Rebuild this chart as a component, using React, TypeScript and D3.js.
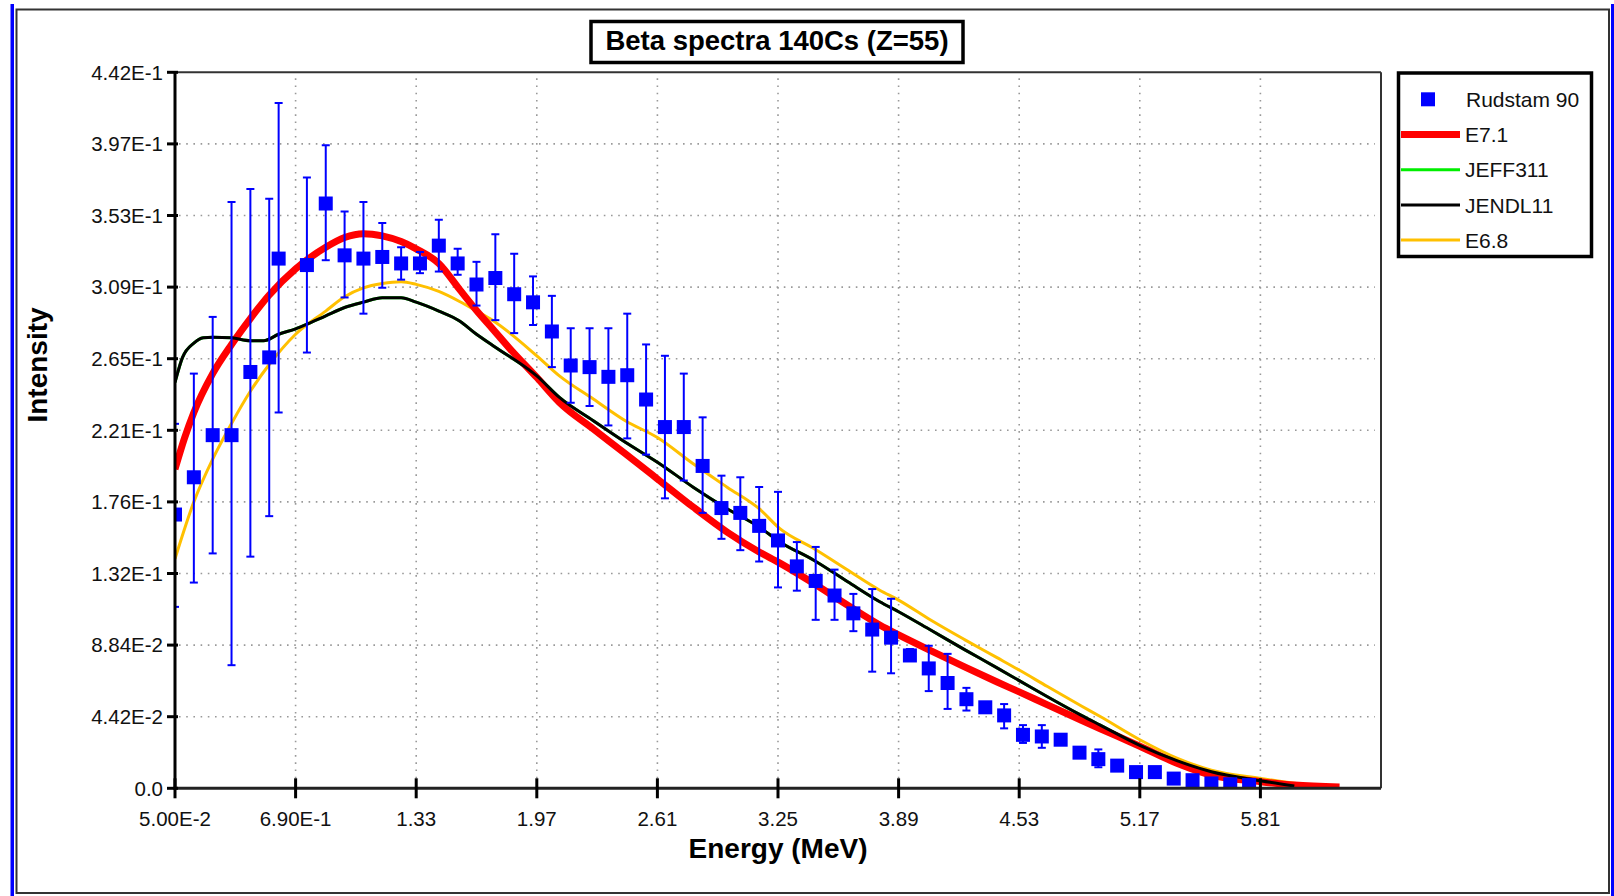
import React from 'react';
import * as d3 from 'd3';

// ---------- data ----------
const xTickValues = [0.05, 0.69, 1.33, 1.97, 2.61, 3.25, 3.89, 4.53, 5.17, 5.81];
const xTickLabels = ['5.00E-2', '6.90E-1', '1.33', '1.97', '2.61', '3.25', '3.89', '4.53', '5.17', '5.81'];
const yTickValues = [0, 0.0442, 0.0884, 0.1326, 0.1768, 0.221, 0.2652, 0.3094, 0.3536, 0.3978, 0.442];
const yTickLabels = ['0.0', '4.42E-2', '8.84E-2', '1.32E-1', '1.76E-1', '2.21E-1', '2.65E-1', '3.09E-1', '3.53E-1', '3.97E-1', '4.42E-1'];

// Rudstam 90 measured points
const rudE = [0.05, 0.15, 0.25, 0.35, 0.45, 0.55, 0.60, 0.75, 0.85, 0.95, 1.05, 1.15, 1.25, 1.35, 1.45, 1.55, 1.65, 1.75, 1.85, 1.95,
  2.05, 2.15, 2.25, 2.35, 2.45, 2.55, 2.65, 2.75, 2.85, 2.95, 3.05, 3.15, 3.25, 3.35, 3.45, 3.55, 3.65, 3.75, 3.85, 3.95,
  4.05, 4.15, 4.25, 4.35, 4.45, 4.55, 4.65, 4.75, 4.85, 4.95, 5.05, 5.15, 5.25, 5.35, 5.45, 5.55, 5.65, 5.75];
const rudI = [0.169, 0.192, 0.218, 0.218, 0.257, 0.266, 0.327, 0.323, 0.361, 0.329, 0.327, 0.328, 0.324, 0.324, 0.335, 0.324, 0.311, 0.315, 0.305, 0.300,
  0.282, 0.261, 0.260, 0.254, 0.255, 0.240, 0.223, 0.223, 0.199, 0.173, 0.170, 0.162, 0.153, 0.137, 0.128, 0.119, 0.108, 0.098, 0.093, 0.082,
  0.074, 0.065, 0.055, 0.050, 0.045, 0.033, 0.032, 0.030, 0.022, 0.018, 0.014, 0.010, 0.010, 0.006, 0.005, 0.003, 0.0025, 0.002];
const rudLo = [0.112, 0.127, 0.145, 0.076, 0.143, 0.168, 0.232, 0.269, 0.326, 0.303, 0.293, 0.309, 0.314, 0.318, 0.319, 0.317, 0.298, 0.289, 0.281, 0.286,
  0.260, 0.238, 0.236, 0.224, 0.216, 0.206, 0.179, 0.190, 0.170, 0.154, 0.147, 0.140, 0.124, 0.122, 0.104, 0.104, 0.097, 0.072, 0.071, 0.079,
  0.060, 0.049, 0.048, 0.050, 0.037, 0.028, 0.025, 0.030, 0.022, 0.013, 0.014, 0.010, 0.010, 0.006, 0.005, 0.003, 0.0025, 0.002];
const rudHi = [0.225, 0.256, 0.291, 0.362, 0.370, 0.364, 0.423, 0.377, 0.397, 0.356, 0.362, 0.349, 0.334, 0.331, 0.351, 0.333, 0.325, 0.342, 0.330, 0.316,
  0.304, 0.284, 0.284, 0.284, 0.293, 0.274, 0.267, 0.256, 0.229, 0.193, 0.192, 0.186, 0.183, 0.152, 0.149, 0.135, 0.120, 0.123, 0.117, 0.086,
  0.088, 0.083, 0.062, 0.050, 0.052, 0.039, 0.039, 0.030, 0.022, 0.024, 0.014, 0.010, 0.010, 0.006, 0.005, 0.003, 0.0025, 0.002];

// E7.1
const e71E = [0.05, 0.10, 0.15, 0.25, 0.35, 0.45, 0.55, 0.69, 0.85, 0.95, 1.05, 1.15, 1.25, 1.33, 1.45, 1.56, 1.65, 1.74, 1.83, 1.97,
  2.09, 2.27, 2.44, 2.61, 2.80, 2.98, 3.15, 3.26, 3.44, 3.62, 3.79, 3.89, 4.06, 4.24, 4.41, 4.53, 4.68, 4.86, 4.96, 5.17,
  5.37, 5.55, 5.81, 5.99, 6.23];
const e71I = [0.197, 0.216, 0.232, 0.256, 0.274, 0.290, 0.3045, 0.3206, 0.334, 0.340, 0.3424, 0.341, 0.3375, 0.333, 0.324, 0.308, 0.295, 0.283, 0.271, 0.2536,
  0.2382, 0.2218, 0.2065, 0.191, 0.1736, 0.1582, 0.1459, 0.139, 0.1264, 0.113, 0.1008, 0.0947, 0.085, 0.075, 0.0658, 0.0595, 0.0515, 0.042, 0.0368, 0.026,
  0.0153, 0.0081, 0.0041, 0.002, 0.0008];

// JEFF311 (lies under JENDL11)
const jeffE = [0.05, 0.09, 0.15, 0.20, 0.25, 0.35, 0.45, 0.52, 0.60, 0.69, 0.75, 0.85, 0.95, 1.05, 1.15, 1.25, 1.33, 1.45, 1.56, 1.65,
  1.74, 1.97, 2.09, 2.27, 2.44, 2.61, 2.80, 2.98, 3.15, 3.26, 3.44, 3.62, 3.79, 3.89, 4.06, 4.24, 4.41, 4.53, 4.68, 4.86,
  4.96, 5.17, 5.37, 5.55, 5.81, 5.99];
const jeffI = [0.2506, 0.266, 0.2748, 0.2781, 0.2785, 0.2781, 0.2763, 0.2763, 0.2803, 0.2836, 0.2865, 0.2917, 0.2968, 0.3001, 0.3028, 0.3028, 0.3001, 0.2946, 0.2885, 0.2803,
  0.2731, 0.2546, 0.2413, 0.2269, 0.2136, 0.2013, 0.1859, 0.1726, 0.1613, 0.1521, 0.1408, 0.1275, 0.1152, 0.109, 0.0977, 0.0856, 0.0745, 0.0665, 0.0565, 0.045,
  0.039, 0.0265, 0.0169, 0.0102, 0.0047, 0.0014];

// JENDL11
const jendlE = [0.05, 0.09, 0.15, 0.20, 0.25, 0.35, 0.45, 0.52, 0.60, 0.69, 0.75, 0.85, 0.95, 1.05, 1.15, 1.25, 1.33, 1.45, 1.56, 1.65,
  1.74, 1.97, 2.09, 2.27, 2.44, 2.61, 2.80, 2.98, 3.15, 3.26, 3.44, 3.62, 3.79, 3.89, 4.06, 4.24, 4.41, 4.53, 4.68, 4.86,
  4.96, 5.17, 5.37, 5.55, 5.81, 5.99];
const jendlI = [0.2506, 0.266, 0.2748, 0.2781, 0.2785, 0.2781, 0.2763, 0.2763, 0.2803, 0.2836, 0.2865, 0.2917, 0.2968, 0.3001, 0.3028, 0.3028, 0.3001, 0.2946, 0.2885, 0.2803,
  0.2731, 0.2546, 0.2413, 0.2269, 0.2136, 0.2013, 0.1859, 0.1726, 0.1613, 0.1521, 0.1408, 0.1275, 0.1152, 0.109, 0.0977, 0.0856, 0.0745, 0.0665, 0.0565, 0.045,
  0.039, 0.0265, 0.0169, 0.0102, 0.0047, 0.0014];

// E6.8
const e68E = [0.05, 0.15, 0.25, 0.35, 0.45, 0.55, 0.69, 0.85, 0.95, 1.05, 1.15, 1.25, 1.33, 1.45, 1.56, 1.65, 1.74, 1.97, 2.09, 2.27,
  2.44, 2.61, 2.80, 2.98, 3.15, 3.26, 3.44, 3.62, 3.79, 3.89, 4.06, 4.24, 4.41, 4.53, 4.68, 4.86, 4.96, 5.17, 5.37, 5.55,
  5.81, 5.99, 6.13];
const e68I = [0.1416, 0.1768, 0.2032, 0.2252, 0.2451, 0.2616, 0.2803, 0.2946, 0.3034, 0.3089, 0.3116, 0.3127, 0.3111, 0.3067, 0.3005, 0.2946, 0.2885, 0.267, 0.2546, 0.2403,
  0.2269, 0.2165, 0.2003, 0.1859, 0.1726, 0.1603, 0.148, 0.1347, 0.1223, 0.1162, 0.1039, 0.0918, 0.0808, 0.073, 0.0628, 0.0508, 0.0443, 0.030, 0.0185, 0.0112,
  0.0061, 0.0031, 0.001];

const legendNames = ['Rudstam 90', 'E7.1', 'JEFF311', 'JENDL11', 'E6.8'];

// ---------- layout ----------
const W = 1614;
const H = 896;
const PL = 175, PR = 1381, PT = 72.3, PB = 788.3;
const FONT = '"Liberation Sans", Arial, sans-serif';

export default function App() {
  const x = d3.scaleLinear().domain([0.05, 6.45]).range([PL, PR]);
  const y = d3.scaleLinear().domain([0, 0.442]).range([PB, PT]);
  const line = d3.line<[number, number]>().x(d => x(d[0])).y(d => y(d[1])).curve(d3.curveMonotoneX);
  const zip = (a: number[], b: number[]) => a.map((v, i) => [v, b[i]] as [number, number]);

  const curves = [
    { name: 'JEFF311', data: zip(jeffE, jeffI), color: '#00ee00', w: 3 },
    { name: 'E6.8', data: zip(e68E, e68I), color: '#ffc000', w: 3 },
    { name: 'E7.1', data: zip(e71E, e71I), color: '#ff0000', w: 7 },
    { name: 'JENDL11', data: zip(jendlE, jendlI), color: '#000000', w: 3 },
  ];

  const legendStyles: Record<string, { color: string; w: number }> = {
    'E7.1': { color: '#ff0000', w: 7 },
    'JEFF311': { color: '#00ee00', w: 3 },
    'JENDL11': { color: '#000000', w: 3 },
    'E6.8': { color: '#ffc000', w: 3 },
  };

  return (
    <svg width={W} height={H} style={{ position: 'absolute', left: 0, top: 0, background: '#fff' }}
      fontFamily={FONT}>
      <defs>
        <clipPath id="plotclip">
          <rect x={PL} y={PT} width={PR - PL} height={PB - PT} />
        </clipPath>
      </defs>
      <rect x={0} y={0} width={W} height={H} fill="#fff" />
      {/* blue side bars */}
      <rect x={10.5} y={4} width={3.5} height={H - 4} fill="#0000ff" />
      <rect x={1611} y={4} width={3} height={H - 4} fill="#0000ff" />
      {/* outer frame */}
      <rect x={16.5} y={9.5} width={1592.5} height={883.5} fill="none" stroke="#333" strokeWidth={2} />

      {/* grid */}
      <g stroke="#999" strokeWidth={1.6} strokeDasharray="1.6 5.6">
        {yTickValues.slice(1, -1).map((v, i) => (
          <line key={'gy' + i} x1={PL + 4} x2={PR - 6} y1={y(v)} y2={y(v)} />
        ))}
        {xTickValues.slice(1).map((v, i) => (
          <line key={'gx' + i} x1={x(v)} x2={x(v)} y1={PT + 6} y2={PB - 4} />
        ))}
      </g>

      {/* curves */}
      <g clipPath="url(#plotclip)" fill="none" strokeLinejoin="round">
        {curves.map(c => (
          <path key={c.name} d={line(c.data) || ''} stroke={c.color} strokeWidth={c.w} />
        ))}
      </g>

      {/* measured points */}
      <g clipPath="url(#plotclip)">
        {rudE.map((e, i) => {
          const cx = x(e);
          const hasErr = rudHi[i] - rudLo[i] > 0.0005;
          return (
            <g key={'p' + i}>
              {hasErr && (
                <g stroke="#0000ff" strokeWidth={2}>
                  <line x1={cx} x2={cx} y1={y(rudHi[i])} y2={y(rudLo[i])} />
                  <line x1={cx - 4} x2={cx + 4} y1={y(rudHi[i])} y2={y(rudHi[i])} />
                  <line x1={cx - 4} x2={cx + 4} y1={y(rudLo[i])} y2={y(rudLo[i])} />
                </g>
              )}
              <rect x={cx - 7} y={y(rudI[i]) - 7} width={14} height={14} fill="#0000ff" />
            </g>
          );
        })}
      </g>

      {/* plot frame */}
      <line x1={PL} x2={PR} y1={PT} y2={PT} stroke="#333" strokeWidth={2} />
      <line x1={PR} x2={PR} y1={PT} y2={PB} stroke="#333" strokeWidth={2} />
      <line x1={PL} x2={PL} y1={PT} y2={PB + 1.5} stroke="#000" strokeWidth={3} />
      <line x1={PL - 1.5} x2={PR} y1={PB} y2={PB} stroke="#222" strokeWidth={3} />

      {/* y ticks */}
      {yTickValues.map((v, i) => (
        <g key={'yt' + i}>
          <line x1={PL - 8} x2={PL + 3} y1={y(v)} y2={y(v)} stroke="#000" strokeWidth={3} />
          <text x={163} y={y(v)} dy="0.36em" textAnchor="end" fontSize={20.5} fill="#111">{yTickLabels[i]}</text>
        </g>
      ))}
      {/* x ticks */}
      {xTickValues.map((v, i) => (
        <g key={'xt' + i}>
          <line x1={x(v)} x2={x(v)} y1={PB - 10} y2={PB + 10} stroke="#000" strokeWidth={3} />
          <text x={x(v)} y={826} textAnchor="middle" fontSize={20.5} fill="#111">{xTickLabels[i]}</text>
        </g>
      ))}

      {/* axis titles */}
      <text x={(PL + PR) / 2} y={858} textAnchor="middle" fontSize={28} fontWeight="bold">Energy (MeV)</text>
      <text transform="translate(47,365) rotate(-90)" textAnchor="middle" fontSize={28} fontWeight="bold">Intensity</text>

      {/* title */}
      <rect x={591} y={21.5} width={372} height={41} fill="#fff" stroke="#000" strokeWidth={3.5} />
      <text x={777} y={50} textAnchor="middle" fontSize={27.5} fontWeight="bold">Beta spectra 140Cs (Z=55)</text>

      {/* legend */}
      <rect x={1398.5} y={73} width={193} height={183.5} fill="#fff" stroke="#000" strokeWidth={3.5} />
      {legendNames.map((n, i) => {
        const cy = 99.3 + i * 35.2;
        return (
          <g key={'lg' + i}>
            {i === 0 ? (
              <rect x={1421} y={cy - 7} width={14} height={14} fill="#0000ff" />
            ) : (
              <line x1={1401} x2={1460} y1={cy} y2={cy} stroke={legendStyles[n].color} strokeWidth={legendStyles[n].w} />
            )}
            <text x={i === 0 ? 1466 : 1465} y={cy} dy="0.37em" fontSize={21} fill="#111">{n}</text>
          </g>
        );
      })}
    </svg>
  );
}
